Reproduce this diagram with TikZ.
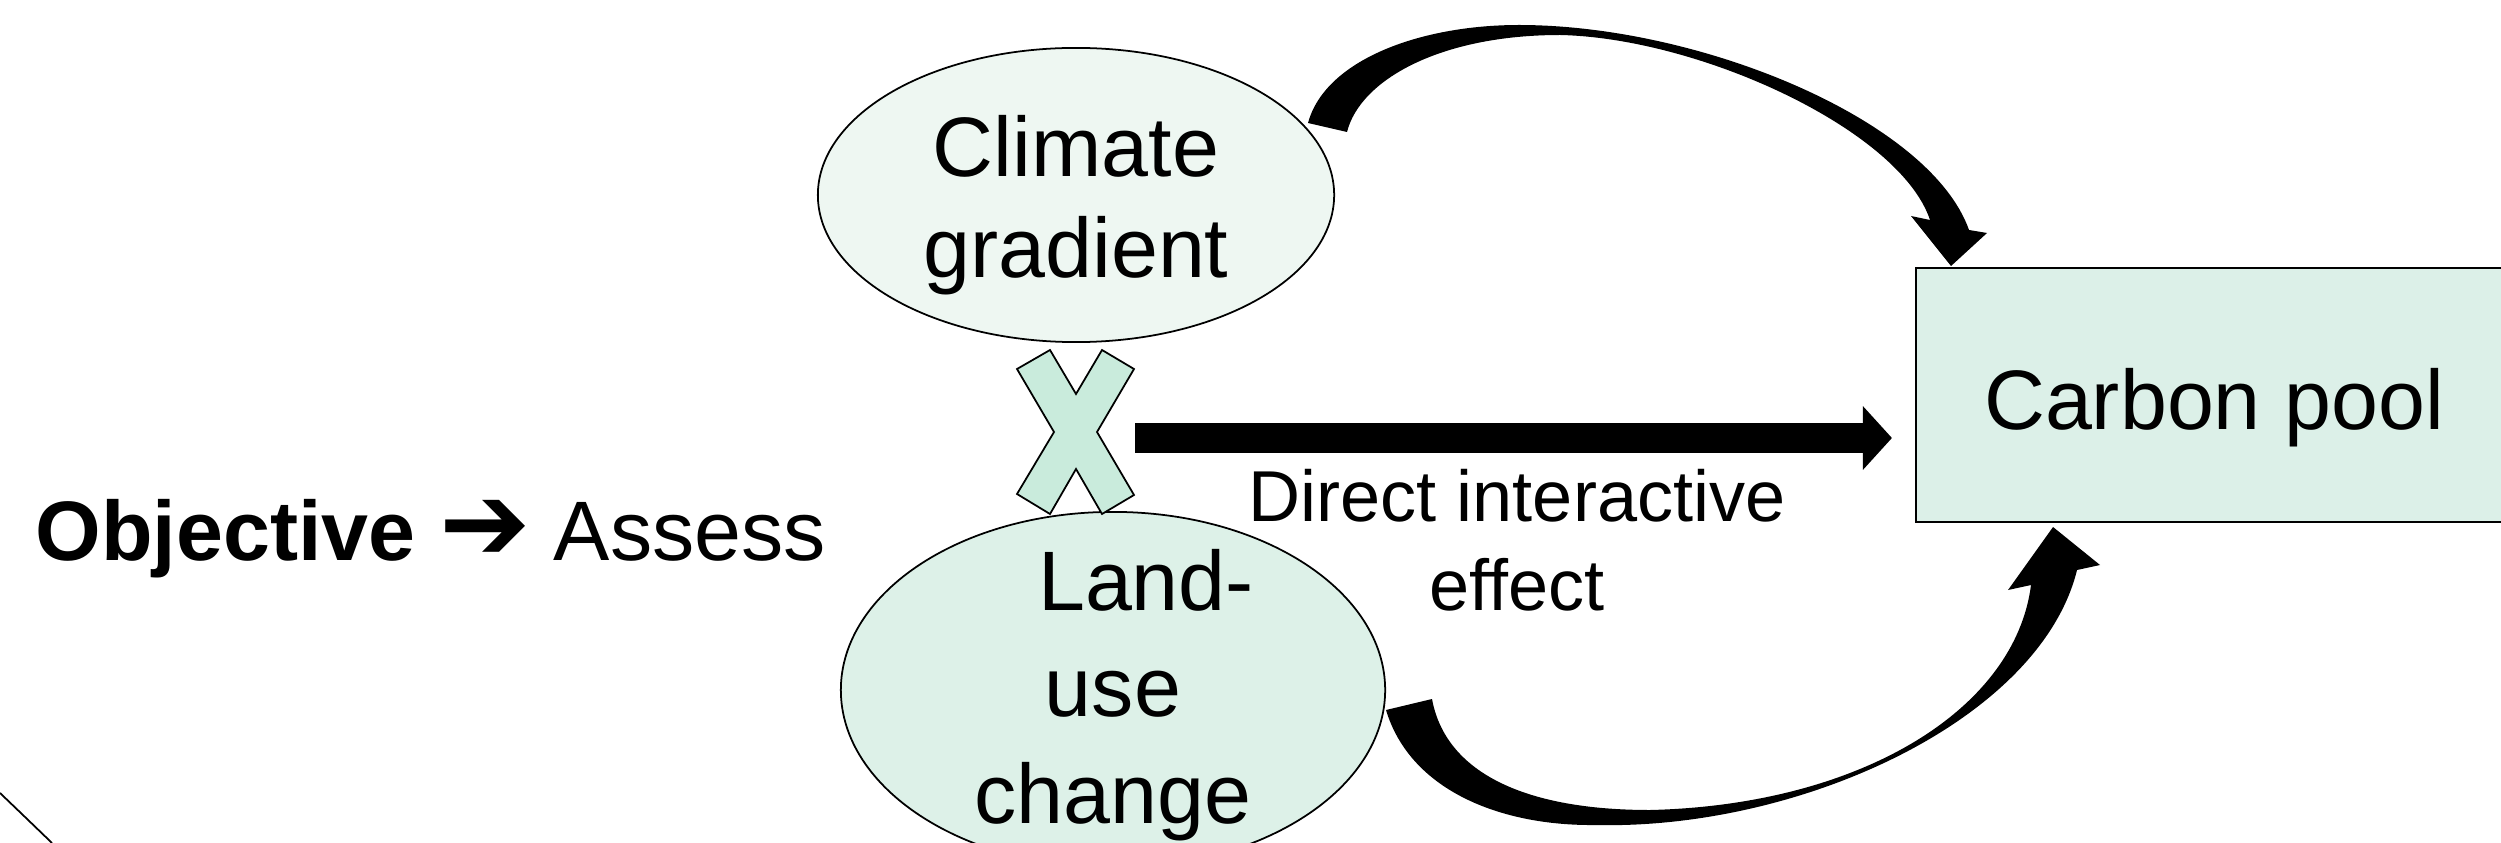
\documentclass[tikz,border=0pt]{standalone}
\usepackage{fontspec}
\setmainfont{Liberation Sans}
\newfontfamily\symbolfont{DejaVu Sans}
\usetikzlibrary{shapes.geometric, arrows.meta, calc}
\definecolor{climateFill}{HTML}{EEF7F2}
\definecolor{landFill}{HTML}{DDF1E8}
\definecolor{crossFill}{HTML}{C9EBDC}
\definecolor{poolFill}{HTML}{DCF0E8}

\begin{document}
\begin{tikzpicture} [
        x=0.01cm, y=-0.01cm,
        oval/.style={draw, ellipse, line width=0.5pt, inner sep=0pt},
        big/.style={font=\fontsize{24}{28.8}\selectfont, align=center},
        small/.style={font=\fontsize{20.5}{25.4}\selectfont, align=center}
    ]
        \useasboundingbox (0,0) rectangle (2501,843);

        % NODE: climate gradient
        \node [oval, fill=climateFill, minimum width=5.16cm, minimum height=2.94cm] (climate) at (1076,195) {};
        \node [big] (climateText) at ($(climate)+(0,10)$) {Climate\\gradient};

        % NODE: land-use change
        \node [oval, fill=landFill, minimum width=5.44cm, minimum height=3.56cm] (landuse) at (1113,690) {};
        \node [big, font=\fontsize{24}{30.2}\selectfont] (landuseText) at ($(landuse)+(0,5)$) {\hspace*{0.66cm}Land-\\use\\change};

        % NODE: carbon pool
        \node [draw, line width=0.5pt, fill=poolFill, minimum width=5.96cm, minimum height=2.54cm] (pool) at (2214,395) {};
        \node [big] (poolText) at ($(pool)+(0,13)$) {Carbon pool};

        % NODE: objective
        \node [big, anchor=base west, inner sep=0pt] (objective) at (35,560)
            {\textbf{Objective} {\symbolfont\fontsize{31}{31}\selectfont ➔} Assess};

        % SHAPE: interaction cross
        \coordinate (cross) at (1076,432);
        \draw [line width=0.5pt, fill=crossFill, shift={(cross)}]
            (-59,-63) -- (-26,-82) -- (0,-38) -- (26,-82) -- (58,-63) -- (21,0)
            -- (58,63) -- (26,82) -- (0,37) -- (-26,82) -- (-59,62) -- (-22,0) -- cycle;

        % ARROW: direct interactive effect
        \coordinate (directStart) at ($(cross)+(59,6)$);
        \coordinate (directEnd) at ($(pool.west)+(-23,0)$);
        \draw [line width=0.29cm, -{Triangle[length=0.29cm, width=0.62cm]}] (directStart) -- (directEnd |- directStart);
        \node [small] (directText) at (1517,540) {Direct interactive\\effect};

        % ARROW: climate -> carbon pool
        \fill (1308,123) .. controls (1325,60) and (1420,25) .. (1519,25)
            .. controls (1700,25) and (1930,120) .. (1969,230)
            -- (1987,233) -- (1951,266) -- (1911,216) -- (1930,220)
            .. controls (1900,130) and (1700,38) .. (1560,35)
            .. controls (1440,35) and (1360,80) .. (1347,132) -- cycle;

        % ARROW: land-use -> carbon pool
        \fill (1386,710) .. controls (1410,790) and (1500,826) .. (1595,825)
            .. controls (1800,830) and (2040,720) .. (2077,570)
            -- (2100,565) -- (2053,527) -- (2008,590) -- (2031,585)
            .. controls (2015,710) and (1860,805) .. (1650,810)
            .. controls (1520,810) and (1445,770) .. (1432,699) -- cycle;

        % outer frame edge
        \draw [line width=0.5pt] (0,793) .. controls (24,816) .. (52,843);
    \end{tikzpicture}
\end{document}
